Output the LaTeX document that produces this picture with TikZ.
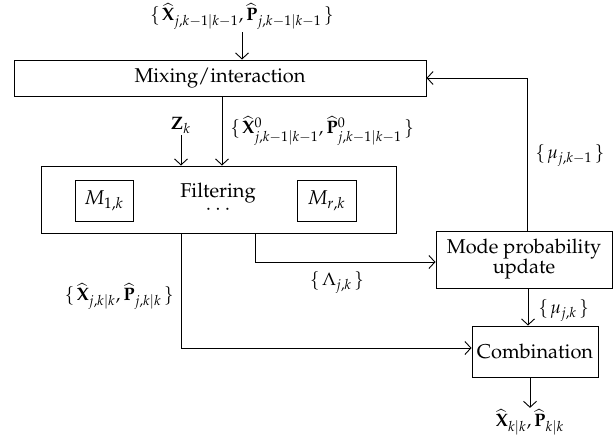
\documentclass[tikz,border=0pt]{standalone}
\usepackage[T1]{fontenc}
\usepackage{mathpazo}
\usetikzlibrary{arrows.meta,calc}
\begin{document}
\begin{tikzpicture}[x=0.5pt,y=-0.5pt,
  box/.style={draw,line width=0.5pt,inner sep=0pt,align=center},
  lbl/.style={inner sep=0.5pt,font=\fontsize{9}{10}\selectfont},
  conn/.style={line width=0.45pt,-{Straight Barb[length=3pt,width=6.5pt]}}]
\useasboundingbox (0,0) rectangle (613,440);
% boxes
\node[box,minimum width=206pt,minimum height=18pt] (mix) at (220,78) {Mixing/interaction};
\node[box,minimum width=177.5pt,minimum height=33.5pt] (filt) at (218.5,199.5) {};
\node[box,minimum width=29pt,minimum height=20.5pt] (m1) at (104,200.5) {$M_{1,k}$};
\node[box,minimum width=29.5pt,minimum height=20.5pt] (mr) at (326.5,200.5) {$M_{r,k}$};
\node[inner sep=0.5pt] (ftxt) at (218,193) {Filtering};
\node[inner sep=0.5pt] (dots) at (218,210) {$\cdots$};
\node[box,minimum width=88pt,minimum height=28.5pt] (mode) at (524,259.5) {Mode probability\\[-2pt]update};
\node[box,minimum width=63pt,minimum height=25.5pt] (comb) at (535,351.5) {Combination};
% labels
\node[lbl] (top) at (242,16) {$\{\mskip2mu\widehat{\mathbf{X}}_{j,k-1|k-1},\widehat{\mathbf{P}}_{j,k-1|k-1}\mskip2mu\}$};
\node[lbl,anchor=west] (x0) at (229,131) {$\{\mskip2mu\widehat{\mathbf{X}}^0_{j,k-1|k-1},\widehat{\mathbf{P}}^0_{j,k-1|k-1}\mskip2mu\}$};
\node[lbl] (zk) at (181,125) {$\mathbf{Z}_k$};
\node[lbl,anchor=west] (mu1) at (534,155) {$\{\mskip2mu\mu_{j,k-1}\mskip2mu\}$};
\node[lbl] (lam) at (337,282) {$\{\mskip2mu\Lambda_{j,k}\mskip2mu\}$};
\node[lbl,anchor=east] (xkk) at (175,296) {$\{\mskip2mu\widehat{\mathbf{X}}_{j,k|k},\widehat{\mathbf{P}}_{j,k|k}\mskip2mu\}$};
\node[lbl,anchor=west] (mu) at (537,310) {$\{\mskip2mu\mu_{j,k}\mskip2mu\}$};
\node[lbl] (out) at (530,422) {$\widehat{\mathbf{X}}_{k|k},\widehat{\mathbf{P}}_{k|k}$};
% coordinates
\coordinate (topa) at (242,32);
\coordinate (zka) at (181,135);
% connectors
\draw[conn] (topa) -- (topa |- mix.north);
\draw[conn] ($(mix.south)+(2,0)$) -- ($(mix.south |- filt.north)+(2,0)$);
\draw[conn] (zka) -- (zka |- filt.north);
\draw[conn] (zka |- filt.south) |- ($(comb.west)+(0,-3.5)$);
\draw[conn] ($(filt.south)+(36.5,0)$) |- ($(mode.west)+(0,2.5)$);
\draw[conn] ($(mode.north)+(3,0)$) |- (mix.east);
\draw[conn] ($(mode.south)+(4,0)$) -- ($(mode.south |- comb.north)+(4,0)$);
\draw[conn] (out |- comb.south) -- (out.north);
\end{tikzpicture}
\end{document}
